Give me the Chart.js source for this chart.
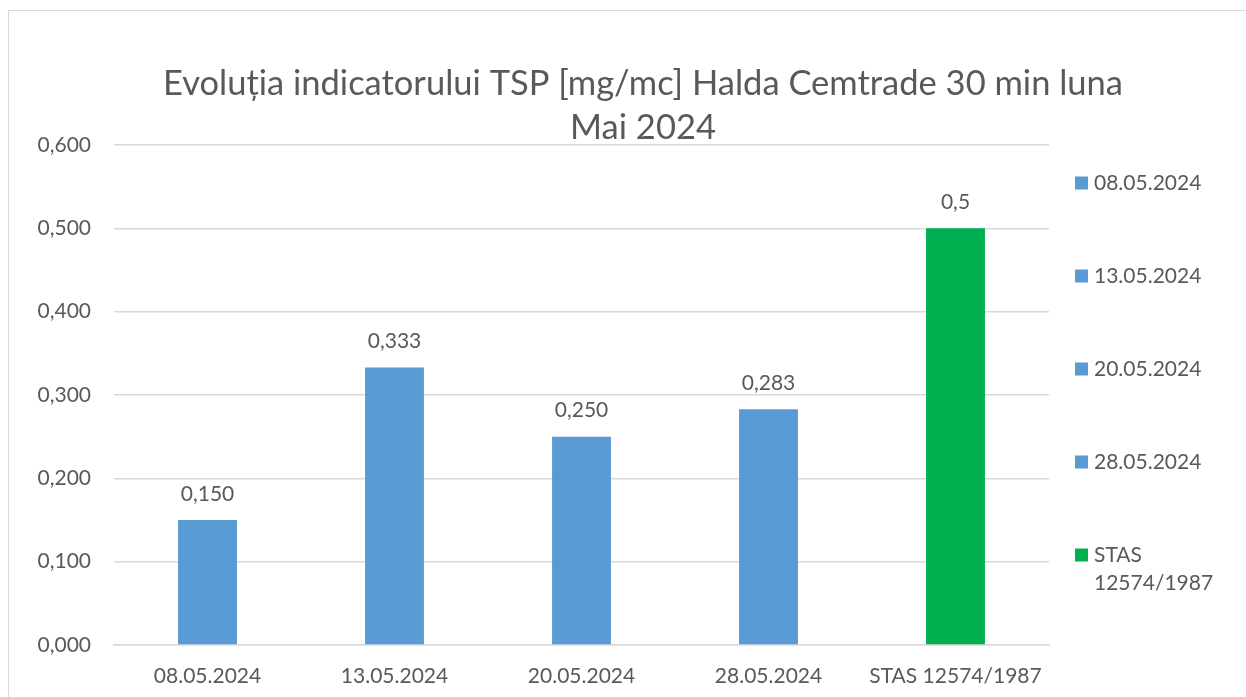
<!DOCTYPE html>
<html>
<head>
<meta charset="utf-8">
<script src="https://cdn.jsdelivr.net/npm/chart.js@4.4.1/dist/chart.umd.min.js"></script>
<style>
  html,body{margin:0;padding:0;background:#fff;overflow:hidden;}
  #box{position:absolute;left:8px;top:10px;width:1268px;height:700px;border:1px solid #d9d9d9;background:#fff;}
  #c{display:block;}
</style>
</head>
<body>
<div id="box"><canvas id="c" width="1268" height="700"></canvas></div>
<script>
// chart values
const categories=['08.05.2024','13.05.2024','20.05.2024','28.05.2024','STAS 12574/1987'];
const values=[0.150,0.333,0.250,0.283,0.5];
const labelDigits=[3,3,3,3,1];
const barColors=['#5B9BD5','#5B9BD5','#5B9BD5','#5B9BD5','#00B050'];
const yTicks=[0,0.1,0.2,0.3,0.4,0.5,0.6];
const titleLines=['Evoluția indicatorului TSP [mg/mc] Halda Cemtrade 30 min luna','Mai 2024'];

const FONT='Lato';
const TXT='#595959';
const comma=(v,d)=>v.toFixed(d).replace('.',',');

// title centred over the whole chart box, not just the padded part
const titleSpan={
  id:'titleSpan',
  afterLayout(chart){
    const t=chart.titleBlock;
    if(t){t.left=0;t.right=chart.width;t.width=chart.width;}
  }
};

// value labels above the bars
const barLabels={
  id:'barLabels',
  afterDatasetsDraw(chart){
    const ctx=chart.ctx, meta=chart.getDatasetMeta(0);
    ctx.save();
    ctx.font='21px '+FONT; ctx.fillStyle=TXT; ctx.textAlign='center'; ctx.textBaseline='middle';
    meta.data.forEach((bar,i)=>ctx.fillText(comma(values[i],labelDigits[i]),bar.x,bar.y-26));
    ctx.restore();
  }
};

// right-side legend, one entry per category
const sideLegend={
  id:'sideLegend',
  afterDraw(chart){
    const ctx=chart.ctx, a=chart.chartArea;
    const x0=a.right+26, step=93;
    let y=a.top+38;
    ctx.save();
    ctx.font='21px '+FONT; ctx.textBaseline='middle'; ctx.textAlign='left';
    categories.forEach((name,i)=>{
      ctx.fillStyle=barColors[i];
      ctx.fillRect(x0,y-6.5,13,13);
      ctx.fillStyle=TXT;
      // wrap long names
      let lines=[name];
      if(ctx.measureText(name).width>140) lines=name.split(' ');
      lines.forEach((ln,k)=>ctx.fillText(ln,x0+19,y+k*28));
      y+=step;
    });
    ctx.restore();
  }
};

new Chart(document.getElementById('c'),{
  type:'bar',
  data:{labels:categories,datasets:[{data:values,backgroundColor:barColors,borderWidth:0,categoryPercentage:1,barPercentage:0.315}]},
  options:{
    responsive:false,animation:false,
    layout:{padding:{left:0,right:228,top:0,bottom:22}},
    plugins:{
      legend:{display:false},tooltip:{enabled:false},
      title:{display:true,text:titleLines,color:TXT,font:{family:FONT,size:34.5,weight:'normal',lineHeight:44/34.5},padding:{top:51,bottom:-5}}
    },
    scales:{
      x:{
        grid:{display:false,drawTicks:false},
        border:{color:'#d9d9d9',width:1.5},
        ticks:{color:TXT,font:{family:FONT,size:21},padding:19,maxRotation:0,autoSkip:false},
        afterFit(s){s.height=44;}
      },
      y:{
        min:0,max:0.6,
        afterBuildTicks(s){s.ticks=yTicks.map(v=>({value:v}));},
        grid:{color:'#d9d9d9',lineWidth:1.5,drawTicks:false},
        border:{display:false},
        ticks:{color:TXT,font:{family:FONT,size:21},padding:23,callback:v=>comma(v,3)},
        afterFit(s){s.width=105;}
      }
    }
  },
  plugins:[titleSpan,barLabels,sideLegend]
});
</script>
</body>
</html>
